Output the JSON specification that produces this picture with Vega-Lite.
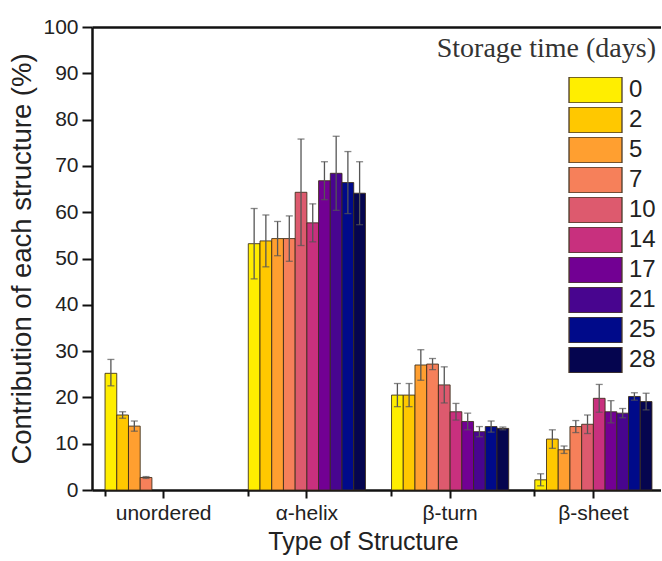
{
  "$schema": "https://vega.github.io/schema/vega-lite/v6.json",
  "width": 569,
  "height": 463,
  "autosize": "none",
  "padding": {"left": 92, "top": 27, "right": 0, "bottom": 71},
  "background": "white",
  "config": {"view": {"stroke": null}, "font": "Liberation Sans"},
  "data": {
    "values": [
      {"type": "unordered", "day": 0, "value": 25.2, "lo": 22.5, "hi": 28.2},
      {"type": "unordered", "day": 2, "value": 16.2, "lo": 15.5, "hi": 16.9},
      {"type": "unordered", "day": 5, "value": 13.8, "lo": 12.7, "hi": 14.9},
      {"type": "unordered", "day": 7, "value": 2.7, "lo": 2.5, "hi": 2.9},
      {"type": "α-helix", "day": 0, "value": 53.2, "lo": 45.6, "hi": 60.8},
      {"type": "α-helix", "day": 2, "value": 53.8, "lo": 48.2, "hi": 59.4},
      {"type": "α-helix", "day": 5, "value": 54.3, "lo": 50.6, "hi": 58.0},
      {"type": "α-helix", "day": 7, "value": 54.3, "lo": 49.4, "hi": 59.2},
      {"type": "α-helix", "day": 10, "value": 64.3, "lo": 52.8, "hi": 75.8},
      {"type": "α-helix", "day": 14, "value": 57.7, "lo": 53.6, "hi": 61.8},
      {"type": "α-helix", "day": 17, "value": 66.8, "lo": 62.7, "hi": 70.9},
      {"type": "α-helix", "day": 21, "value": 68.4, "lo": 60.4, "hi": 76.4},
      {"type": "α-helix", "day": 25, "value": 66.4, "lo": 59.7, "hi": 73.1},
      {"type": "α-helix", "day": 28, "value": 64.1, "lo": 57.3, "hi": 70.9},
      {"type": "β-turn", "day": 0, "value": 20.5, "lo": 18.0, "hi": 23.0},
      {"type": "β-turn", "day": 2, "value": 20.5, "lo": 18.0, "hi": 23.0},
      {"type": "β-turn", "day": 5, "value": 27.0, "lo": 23.7, "hi": 30.3},
      {"type": "β-turn", "day": 7, "value": 27.2, "lo": 26.0, "hi": 28.4},
      {"type": "β-turn", "day": 10, "value": 22.7, "lo": 18.8, "hi": 26.6},
      {"type": "β-turn", "day": 14, "value": 16.9, "lo": 15.1, "hi": 18.7},
      {"type": "β-turn", "day": 17, "value": 14.8, "lo": 13.0, "hi": 16.6},
      {"type": "β-turn", "day": 21, "value": 12.6, "lo": 11.5, "hi": 13.7},
      {"type": "β-turn", "day": 25, "value": 13.7, "lo": 12.5, "hi": 14.9},
      {"type": "β-turn", "day": 28, "value": 13.3, "lo": 13.0, "hi": 13.6},
      {"type": "β-sheet", "day": 0, "value": 2.2, "lo": 0.9, "hi": 3.5},
      {"type": "β-sheet", "day": 2, "value": 11.0, "lo": 9.0, "hi": 13.0},
      {"type": "β-sheet", "day": 5, "value": 8.7, "lo": 7.9, "hi": 9.5},
      {"type": "β-sheet", "day": 7, "value": 13.7, "lo": 12.4, "hi": 15.0},
      {"type": "β-sheet", "day": 10, "value": 14.2, "lo": 12.2, "hi": 16.2},
      {"type": "β-sheet", "day": 14, "value": 19.8, "lo": 16.8, "hi": 22.8},
      {"type": "β-sheet", "day": 17, "value": 16.9, "lo": 14.5, "hi": 19.3},
      {"type": "β-sheet", "day": 21, "value": 16.6, "lo": 15.6, "hi": 17.6},
      {"type": "β-sheet", "day": 25, "value": 20.2, "lo": 19.4, "hi": 21.0},
      {"type": "β-sheet", "day": 28, "value": 19.1, "lo": 17.3, "hi": 20.9}
    ]
  },
  "resolve": {"axis": {"x": "independent"}},
  "layer": [
    {
      "mark": {"type": "bar", "stroke": "#3a2c18", "strokeWidth": 1, "strokeOpacity": 0.85},
      "encoding": {
        "x": {
          "field": "type", "type": "nominal",
          "sort": ["unordered", "α-helix", "β-turn", "β-sheet"],
          "scale": {"range": [0, 573], "paddingInner": 0.182, "paddingOuter": 0.091},
          "axis": {
            "title": "Type of Structure", "titleFontSize": 25, "titleFontWeight": "normal", "titleColor": "#222",
            "titleX": 271, "titlePadding": 6,
            "labelFontSize": 21, "labelColor": "#222", "labelAngle": 0, "labelPadding": 4,
            "tickSize": 8, "tickWidth": 2, "tickColor": "#111",
            "domainColor": "#111", "domainWidth": 2.5
          }
        },
        "xOffset": {"field": "day", "type": "ordinal", "scale": {"paddingInner": 0, "paddingOuter": 0}},
        "y": {
          "field": "value", "type": "quantitative",
          "scale": {"domain": [0, 100], "nice": false},
          "axis": {
            "title": "Contribution of each structure (%)",
            "values": [0, 5, 10, 15, 20, 25, 30, 35, 40, 45, 50, 55, 60, 65, 70, 75, 80, 85, 90, 95, 100],
            "labelExpr": "datum.value % 10 === 0 ? datum.label : ''",
            "tickSize": {"condition": {"test": "datum.value % 10 === 0", "value": 10}, "value": 5},
            "tickWidth": 2, "tickColor": "#111",
            "domainColor": "#111", "domainWidth": 2.5,
            "labelFontSize": 21, "labelColor": "#222", "labelPadding": 4,
            "titleFontSize": 27.5, "titleFontWeight": "normal", "titleColor": "#222", "titlePadding": 6,
            "grid": false
          }
        },
        "color": {
          "field": "day", "type": "ordinal",
          "scale": {
            "domain": [0, 2, 5, 7, 10, 14, 17, 21, 25, 28],
            "range": ["#FFEE00", "#FFC800", "#FF9F30", "#F6805A", "#DD5A6E", "#C8307E", "#720093", "#48058F", "#000A8A", "#05054F"]
          },
          "legend": {
            "orient": "none", "legendX": 345, "legendY": 8, "padding": 0,
            "title": "Storage time (days)", "titleFont": "Liberation Serif", "titleFontSize": 28,
            "titleFontWeight": "normal", "titleColor": "#333", "titleAnchor": "end", "titlePadding": 14,
            "titleLimit": 400, "labelLimit": 100,
            "symbolType": "M-1,-0.49H1V0.49H-1Z", "symbolSize": 2809,
            "symbolStrokeColor": "#4a3a28", "symbolStrokeWidth": 1.3, "symbolOpacity": 1,
            "labelFont": "Liberation Sans", "labelFontSize": 24, "labelColor": "#222", "labelOffset": 6,
            "clipHeight": 26, "rowPadding": 4
          }
        }
      }
    },
    {
      "mark": {"type": "rule", "color": "#555", "strokeWidth": 1.3},
      "encoding": {
        "x": {
          "field": "type", "type": "nominal",
          "sort": ["unordered", "α-helix", "β-turn", "β-sheet"],
          "axis": {"orient": "top", "labels": false, "ticks": false, "title": null, "domainColor": "#111", "domainWidth": 2.5}
        },
        "xOffset": {"field": "day", "type": "ordinal"},
        "y": {"field": "lo", "type": "quantitative"},
        "y2": {"field": "hi"}
      }
    },
    {
      "mark": {"type": "tick", "color": "#555", "thickness": 1.3, "size": 7},
      "encoding": {
        "x": {
          "field": "type", "type": "nominal",
          "sort": ["unordered", "α-helix", "β-turn", "β-sheet"],
          "axis": {"orient": "bottom", "bandPosition": 0, "labels": false, "title": null, "domain": false, "tickSize": 6, "tickWidth": 2, "tickColor": "#111"}
        },
        "xOffset": {"field": "day", "type": "ordinal"},
        "y": {"field": "hi", "type": "quantitative"}
      }
    },
    {
      "mark": {"type": "tick", "color": "#555", "thickness": 1.3, "size": 7},
      "encoding": {
        "x": {
          "field": "type", "type": "nominal",
          "sort": ["unordered", "α-helix", "β-turn", "β-sheet"],
          "axis": null
        },
        "xOffset": {"field": "day", "type": "ordinal"},
        "y": {"field": "lo", "type": "quantitative"}
      }
    }
  ]
}
